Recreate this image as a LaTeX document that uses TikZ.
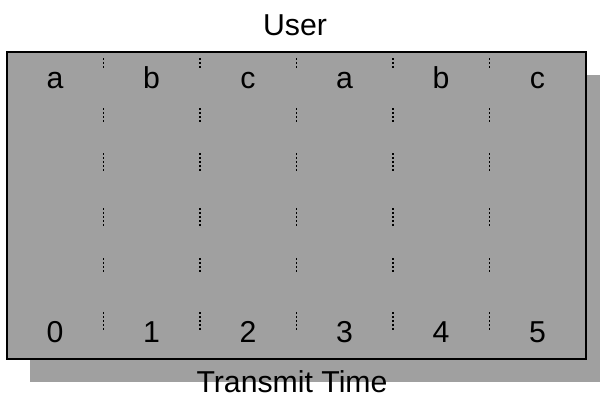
\documentclass[tikz,border=0pt]{standalone}
\usepackage{fontspec}
\setmainfont{Liberation Sans}
\definecolor{slotgray}{RGB}{160,160,160}
\tikzset{
  slot/.style={font=\fontsize{21.5}{25}\selectfont, anchor=base, inner sep=0pt},
  sep/.style={line width=1.3pt, dash pattern=on 1.3pt off 1.53pt},
}
\begin{document}
\begin{tikzpicture}[x=0.025cm,y=-0.025cm]
    \useasboundingbox (0,0) rectangle (600,397);
    % Shadow and frame
    \fill[slotgray] (30,75) rectangle (600,382);
    \filldraw[fill=slotgray, draw=black, line width=1.4pt] (7,52) rectangle (586,359);
    % Separators
    \foreach \x in {103.5,200,296.5,393,489.5}
        \foreach \a/\b in {58/68,108/122,153/172,208/227,258/273,312/331}
            \draw[sep] (\x,\a) -- (\x,\b);
    % Labels
    \node[slot] (user) at (295,35) {User};
    \node[slot] (time) at (292,392) {Transmit Time};
    \foreach \u [count=\i from 0] in {a,b,c,a,b,c}
        \node[slot] (user\i) at (55+96.5*\i,88) {\u};
    \foreach \i in {0,...,5}
        \node[slot] (t\i) at (55+96.5*\i,342) {\i};
\end{tikzpicture}
\end{document}
